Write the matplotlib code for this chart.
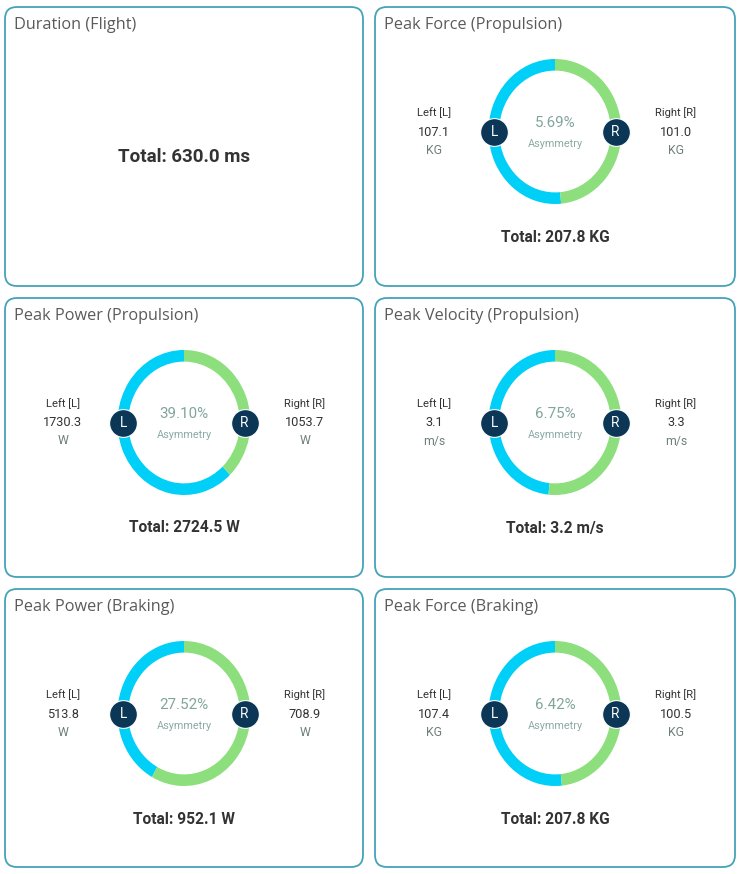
import matplotlib.pyplot as plt
from matplotlib.patches import FancyBboxPatch

# panel data
titles = ["Duration (Flight)", "Peak Force (Propulsion)", "Peak Power (Propulsion)",
          "Peak Velocity (Propulsion)", "Peak Power (Braking)", "Peak Force (Braking)"]
left_vals = [None, 107.1, 1730.3, 3.1, 513.8, 107.4]
right_vals = [None, 101.0, 1053.7, 3.3, 708.9, 100.5]
units = ["ms", "KG", "W", "m/s", "W", "KG"]
totals = [630.0, 207.8, 2724.5, 3.2, 952.1, 207.8]
asymmetry = [None, 5.69, 39.10, 6.75, 27.52, 6.42]

W, H = 739, 874
BLUE = '#00cff7'
GREEN = '#8ddf7d'
NAVY = '#0b3656'
BORDER = '#45a3b8'

fig = plt.figure(figsize=(W / 100, H / 100), dpi=100)
bg = fig.add_axes([0, 0, 1, 1])
bg.set_xlim(0, W)
bg.set_ylim(H, 0)
bg.axis('off')

col_x = [(4, 364), (374, 736)]
row_y = [(6, 287), (297, 578), (588, 868)]

for i, title in enumerate(titles):
    x0, x1 = col_x[i % 2]
    y0, y1 = row_y[i // 2]
    box = FancyBboxPatch((x0 + 1, y0 + 1), x1 - x0 - 2, y1 - y0 - 2,
                         boxstyle='round,pad=0,rounding_size=12',
                         fc='white', ec=BORDER, lw=1.3)
    bg.add_patch(box)
    bg.text(x0 + 10, y0 + 19, title, fontsize=11.7, family='Open Sans',
            color='#5a5a5a', va='center', ha='left')
    cx = (x0 + x1) / 2

    if left_vals[i] is None:
        bg.text(cx, y0 + 151, f"Total: {totals[i]:.1f} {units[i]}", fontsize=13.5,
                family='Roboto', weight='bold', color='#333333', ha='center', va='center')
        continue

    cy = y0 + 125.5
    rw, rh = 133, 145
    pax = fig.add_axes([(cx - rw / 2) / W, 1 - (cy + rh / 2) / H, rw / W, rh / H])
    pax.pie([left_vals[i], right_vals[i]], colors=[BLUE, GREEN], startangle=90,
            counterclock=True, radius=1, wedgeprops=dict(width=0.16, lw=0))
    pax.set_aspect('auto')
    pax.set_xlim(-1, 1)
    pax.set_ylim(-1, 1)
    pax.axis('off')
    pax.scatter([-0.91, 0.91], [0, 0], s=400, c=NAVY, edgecolors='white',
                linewidths=0.8, zorder=5, clip_on=False)
    for bx, lab in [(-0.91, 'L'), (0.91, 'R')]:
        pax.text(bx, -0.01, lab, color='white', fontsize=9.8, family='Roboto',
                 ha='center', va='center', zorder=6)

    bg.text(cx, y0 + 117, f"{asymmetry[i]:.2f}%", fontsize=10.9, family='Roboto',
            color='#80a59d', ha='center', va='center')
    bg.text(cx, y0 + 138, "Asymmetry", fontsize=7.8, family='Roboto',
            color='#8aaaa4', ha='center', va='center')

    for dx, lab, val in [(-121, 'Left [L]', left_vals[i]), (121, 'Right [R]', right_vals[i])]:
        bg.text(cx + dx, y0 + 107, lab, fontsize=8.1, family='Roboto',
                color='#333333', ha='center', va='center')
        bg.text(cx + dx, y0 + 126, f"{val:.1f}", fontsize=9.2, family='Roboto',
                color='#333333', ha='center', va='center')
        bg.text(cx + dx, y0 + 144, units[i], fontsize=8.8, family='Roboto',
                color='#6f7f7d', ha='center', va='center')

    bg.text(cx, y0 + 231, f"Total: {totals[i]:.1f} {units[i]}", fontsize=11.2,
            family='Roboto', weight='bold', color='#333333', ha='center', va='center')

fig.savefig('out.png', dpi=100, facecolor='white')
